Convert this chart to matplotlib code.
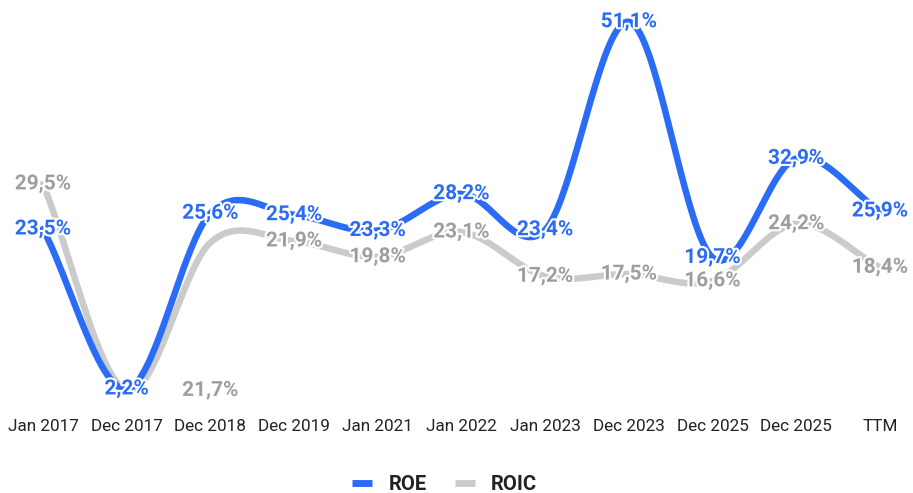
import numpy as np
import matplotlib
matplotlib.use("Agg")
import matplotlib.pyplot as plt
import matplotlib.patheffects as pe
from matplotlib.lines import Line2D

# ── data ──────────────────────────────────────────────────────────────────────
periods = ["Jan 2017", "Dec 2017", "Dec 2018", "Dec 2019", "Jan 2021", "Jan 2022",
           "Jan 2023", "Dec 2023", "Dec 2025", "Dec 2025", "TTM"]
roe  = [23.5, 2.2, 25.6, 25.4, 23.3, 28.2, 23.4, 51.1, 19.7, 32.9, 25.9]
roic = [29.5, 2.0, 21.7, 21.9, 19.8, 23.1, 17.2, 17.5, 16.6, 24.2, 18.4]

BLUE      = "#2b6cf6"
GRAY_LINE = "#cbcbcb"
GRAY_TEXT = "#9e9e9e"

plt.rcParams["font.family"] = ["Roboto", "DejaVu Sans"]


def smooth(y, n=40):
    """Catmull-Rom spline through equally spaced points (x = index)."""
    y = np.asarray(y, dtype=float)
    m = np.empty_like(y)
    m[1:-1] = (y[2:] - y[:-2]) / 2
    m[0], m[-1] = y[1] - y[0], y[-1] - y[-2]
    xs, ys = [], []
    t = np.linspace(0, 1, n)
    h00 = 2*t**3 - 3*t**2 + 1
    h10 = t**3 - 2*t**2 + t
    h01 = -2*t**3 + 3*t**2
    h11 = t**3 - t**2
    for i in range(len(y) - 1):
        xs.append(i + t)
        ys.append(h00*y[i] + h10*m[i] + h01*y[i+1] + h11*m[i+1])
    return np.concatenate(xs), np.concatenate(ys)


def fmt(v):
    return f"{v:.1f}".replace(".", ",") + "%"


fig = plt.figure(figsize=(9.13, 4.93), dpi=100)
ax = fig.add_axes([0, 0.1775, 1, 0.8225])
x = np.arange(len(periods))

sx, sy = smooth(roic)
ax.plot(sx, sy, color=GRAY_LINE, lw=4.7, solid_capstyle="round", zorder=2)
sx, sy = smooth(roe)
ax.plot(sx, sy, color=BLUE, lw=4.7, solid_capstyle="round", zorder=3)

stroke = [pe.withStroke(linewidth=3, foreground="white")]
for i, v in enumerate(roic):
    if i == 1:
        continue  # hidden behind the ROE label
    yy = roic[1] if i == 2 else v   # this label sits down at the trough in the source
    ax.text(i, yy, fmt(v), ha="center", va="center", fontsize=15, fontweight="bold",
            color=GRAY_TEXT, path_effects=stroke, zorder=4)
for i, v in enumerate(roe):
    ax.text(i, v, fmt(v), ha="center", va="center", fontsize=15, fontweight="bold",
            color=BLUE, path_effects=stroke, zorder=5)

ax.set_xlim(-0.514, 10.394)
ax.set_ylim(0, 54.0)
ax.set_xticks(x)
ax.set_xticklabels(periods, fontsize=12.3, color="#222222")
ax.tick_params(axis="x", length=0, pad=9.5)
ax.set_yticks([])
for s in ax.spines.values():
    s.set_visible(False)

handles = [Line2D([], [], color=BLUE, lw=5, solid_capstyle="butt"),
           Line2D([], [], color=GRAY_LINE, lw=5, solid_capstyle="butt")]
leg = fig.legend(handles, ["ROE", "ROIC"], loc="center", bbox_to_anchor=(0.487, 0.017),
                 ncol=2, frameon=False, handlelength=1.0, handletextpad=0.8,
                 columnspacing=1.4, prop={"size": 14.5, "weight": "bold"})
for t in leg.get_texts():
    t.set_color("#222222")

fig.savefig("out.png", dpi=100)
